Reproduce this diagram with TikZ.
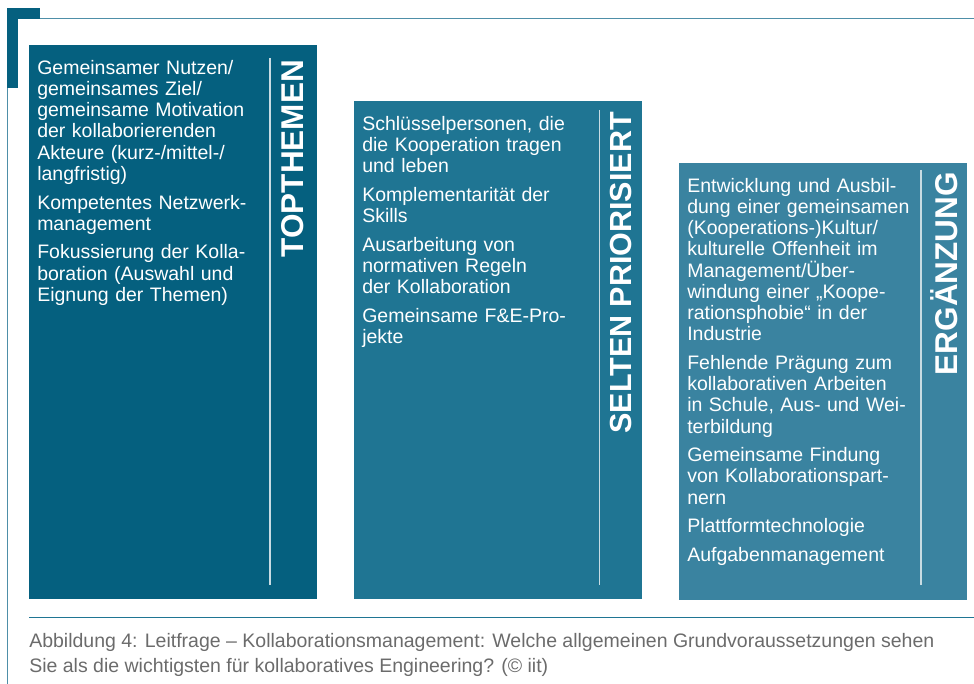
\documentclass[tikz,border=0pt]{standalone}
\usepackage{fontspec}
\setmainfont{Liberation Sans}
\usepackage{tikz}
\usetikzlibrary{positioning,calc}
\definecolor{tdark}{HTML}{05607F}
\definecolor{tmid}{HTML}{1F7593}
\definecolor{tlight}{HTML}{3A83A0}
\definecolor{tline}{HTML}{4E8FA8}
\definecolor{capgray}{HTML}{6B6B6B}

\begin{document}
\begin{tikzpicture}[x=1pt, y=-1pt, line width=0.5pt, node distance=8pt,
	panel/.style={rectangle, inner sep=0pt, anchor=north west, minimum width=288pt},
	items/.style={inner sep=0pt, text width=240pt, align=left, text=white, font=\fontsize{19.5}{21.2}\selectfont},
	vtitle/.style={rotate=90, inner sep=0pt, anchor=base east, text=white, font=\fontsize{31.5}{32}\selectfont\bfseries},
	divider/.style={draw=white!78!tdark, line width=1.4pt},
	frame/.style={draw=tline, line width=1.2pt}]
	
	\useasboundingbox (0,0) rectangle (974,684);
	
	\fill [tdark] (7,8) rectangle (40,19);
	\fill [tdark] (7,8) rectangle (18,88);
	\coordinate (fa) at (40,18.5);
	\coordinate (fb) at (974,18.5);
	\coordinate (fc) at (7.6,88);
	\coordinate (fd) at (7.6,684);
	\draw [frame] (fa) -- (fb);
	\draw [frame] (fc) -- (fd);
	
	\node [panel, fill=tdark, minimum height=554pt] (top) at (29,45) {};
	\node [panel, fill=tmid, minimum height=498pt] (sel) at (354,101) {};
	\node [panel, fill=tlight, minimum height=437pt] (erg) at (679,163) {};
	
	\node [items] (toptext) [below right=15pt and 8pt of top.north west] {Gemeinsamer Nutzen/\\ gemeinsames Ziel/\\ gemeinsame Motivation\\ der kollaborierenden\\ Akteure (kurz-/mittel-/\\ langfristig)\\[7.5pt] Kompetentes Netzwerk-\\ management\\[7.5pt] Fokussierung der Kolla-\\ boration (Auswahl und\\ Eignung der Themen)};
	
	\node [items] (seltext) [below right=15pt and 8pt of sel.north west] {Schlüsselpersonen, die\\ die Kooperation tragen\\ und leben\\[7.5pt] Komplementarität der\\ Skills\\[7.5pt] Ausarbeitung von\\ normativen Regeln\\ der Kollaboration\\[7.5pt] Gemeinsame F\&E-Pro-\\ jekte};
	
	\node [items] (ergtext) [below right=15pt and 8pt of erg.north west] {Entwicklung und Ausbil-\\ dung einer gemeinsamen\\ (Kooperations-)Kultur/\\ kulturelle Offenheit im\\ Management/Über-\\ windung einer „Koope-\\ rationsphobie“ in der\\ Industrie\\[7.5pt] Fehlende Prägung zum\\ kollaborativen Arbeiten\\ in Schule, Aus- und Wei-\\ terbildung\\[7.5pt] Gemeinsame Findung\\ von Kollaborationspart-\\ nern\\[7.5pt] Plattformtechnologie\\[7.5pt] Aufgabenmanagement};
	
	\coordinate (d1a) at (270,58);
	\coordinate (d1b) at (270,585);
	\coordinate (d2a) at (599.5,110);
	\coordinate (d2b) at (599.5,585);
	\coordinate (d3a) at (921,170);
	\coordinate (d3b) at (921,585);
	\draw [divider] (d1a) -- (d1b);
	\draw [divider] (d2a) -- (d2b);
	\draw [divider] (d3a) -- (d3b);
	
	\node [vtitle] (toptitle) at (303,60) {TOPTHEMEN};
	\node [vtitle, font=\fontsize{30.5}{32}\selectfont\bfseries] (seltitle) at (631,112) {SELTEN PRIORISIERT};
	\node [vtitle] (ergtitle) at (957,172) {ERGÄNZUNG};
	
	\coordinate (ra) at (29,617.5);
	\coordinate (rb) at (974,617.5);
	\draw [draw=tmid, line width=1.5pt] (ra) -- (rb);
	
	\node [inner sep=0pt, anchor=north west, align=left, text=capgray, font=\fontsize{19.5}{25}\selectfont] (caption) at (29,633) {Abbildung 4: Leitfrage – Kollaborationsmanagement: Welche allgemeinen Grundvoraussetzungen sehen\\ Sie als die wichtigsten für kollaboratives Engineering? (© iit)};
\end{tikzpicture}
\end{document}
